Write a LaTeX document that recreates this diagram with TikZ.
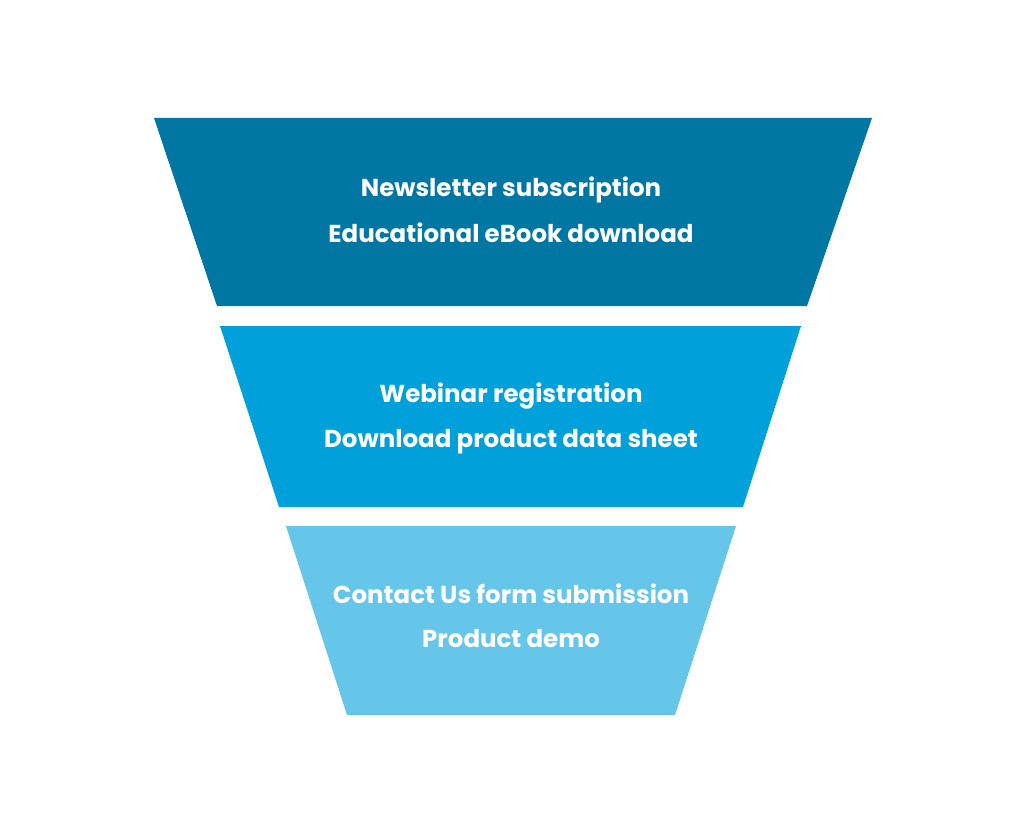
\documentclass[tikz,border=0pt]{standalone}
\usepackage{fontspec}
\setmainfont{Poppins}
\usetikzlibrary{positioning}
\definecolor{stageA}{HTML}{0077A3}
\definecolor{stageB}{HTML}{00A1DB}
\definecolor{stageC}{HTML}{66C6EA}
\begin{document}
\begin{tikzpicture}[x=1pt, y=-1pt,
    label/.style={text=white, font=\fontsize{24.5}{29}\selectfont\bfseries, anchor=base}]
    \useasboundingbox (0,0) rectangle (1024,834);

    % top stage
    \coordinate (A1) at (154,118);
    \coordinate (A2) at (872,118);
    \coordinate (A3) at (807,306);
    \coordinate (A4) at (217,306);
    \fill[stageA] (A1) -- (A2) -- (A3) -- (A4) -- cycle;
    \node[label] (newsletter) at (511,197) {Newsletter subscription};
    \node[label] (ebook) at (511,242) {Educational eBook download};

    % middle stage
    \coordinate (B1) at (220,326);
    \coordinate (B2) at (801,326);
    \coordinate (B3) at (743,507);
    \coordinate (B4) at (279,507);
    \fill[stageB] (B1) -- (B2) -- (B3) -- (B4) -- cycle;
    \node[label] (webinar) at (511,402) {Webinar registration};
    \node[label] (datasheet) at (511,447) {Download product data sheet};

    % bottom stage
    \coordinate (C1) at (286,526);
    \coordinate (C2) at (736,526);
    \coordinate (C3) at (675,715);
    \coordinate (C4) at (347,715);
    \fill[stageC] (C1) -- (C2) -- (C3) -- (C4) -- cycle;
    \node[label] (contact) at (511,603) {Contact Us form submission};
    \node[label] (demo) at (511,647) {Product demo};
\end{tikzpicture}
\end{document}
